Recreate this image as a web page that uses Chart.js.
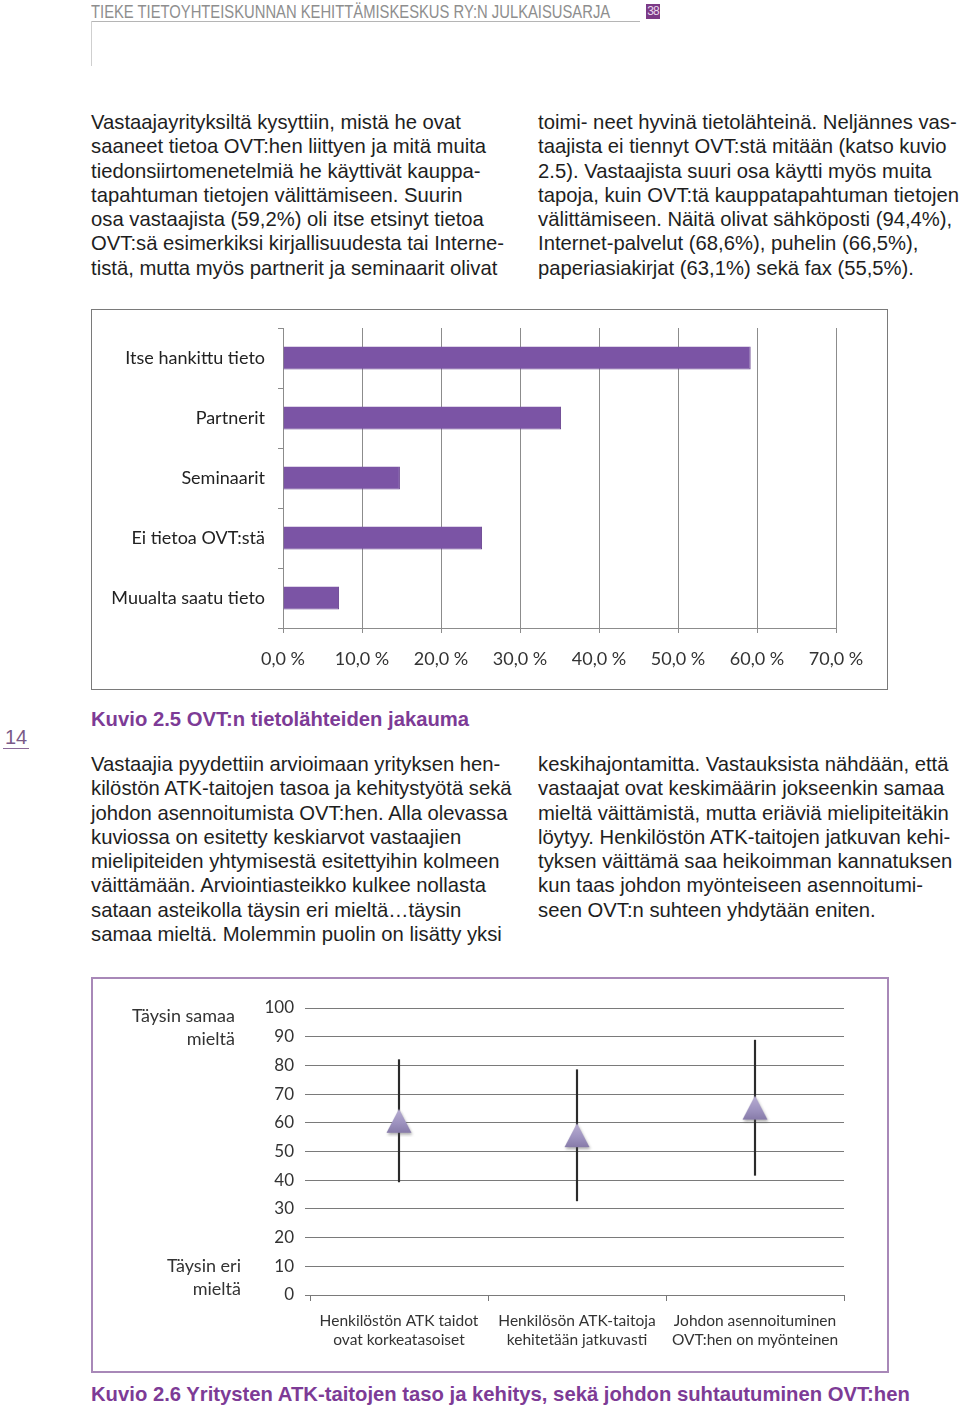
<!DOCTYPE html>
<html lang="fi">
<head>
<meta charset="UTF-8">
<title>Kuvio 2.5 ja 2.6</title>
<script src="https://cdn.jsdelivr.net/npm/chart.js"></script>
<style>
    body { margin: 0; width: 960px; height: 1410px; position: relative; overflow: hidden; background: #fff;
           font-family: "Liberation Sans", Arial, sans-serif; color: #1e1e1e; }
    .teksti { position: absolute; font-size: 20.25px; line-height: 24.3px; white-space: nowrap; }
    .otsake { position: absolute; left: 91px; top: 1px; font-size: 19px; color: #8e8e8e; white-space: nowrap;
              transform: scaleX(0.778); transform-origin: left top; }
    .kuvio { position: absolute; left: 91px; font-size: 20.25px; font-weight: bold; color: #7d3b96; white-space: nowrap; }
    .kehys { position: absolute; left: 91px; width: 795px; background: #fff; }
    .kehys canvas { position: absolute; left: 0; top: 0; }
    .sivuteksti { position: absolute; font-family: Lato, "Liberation Sans", sans-serif; font-size: 18px;
                  color: #333; text-align: right; line-height: 23px; white-space: nowrap; }
</style>
</head>
<body>

    <!-- yläreuna -->
    <div class="otsake">TIEKE TIETOYHTEISKUNNAN KEHITTÄMISKESKUS RY:N JULKAISUSARJA</div>
    <div style="position:absolute; left:91px; top:21px; width:549px; height:1px; background:#b5b5b5;"></div>
    <div style="position:absolute; left:91px; top:21px; width:1px; height:45px; background:#cfcfcf;"></div>
    <div style="position:absolute; left:646px; top:4px; width:14px; height:15px; background:#7c3a86; color:#e8d8ec;
                font-size:12px; line-height:15px; text-align:center; letter-spacing:-1px;">38</div>

    <div class="teksti" style="left:91px; top:110px;">
        Vastaajayrityksiltä kysyttiin, mistä he ovat<br>
        saaneet tietoa OVT:hen liittyen ja mitä muita<br>
        tiedonsiirtomenetelmiä he käyttivät kauppa-<br>
        tapahtuman tietojen välittämiseen. Suurin<br>
        osa vastaajista (59,2%) oli itse etsinyt tietoa<br>
        OVT:sä esimerkiksi kirjallisuudesta tai Interne-<br>
        tistä, mutta myös partnerit ja seminaarit olivat
    </div>
    <div class="teksti" style="left:538px; top:110px;">
        toimi- neet hyvinä tietolähteinä. Neljännes vas-<br>
        taajista ei tiennyt OVT:stä mitään (katso kuvio<br>
        2.5). Vastaajista suuri osa käytti myös muita<br>
        tapoja, kuin OVT:tä kauppatapahtuman tietojen<br>
        välittämiseen. Näitä olivat sähköposti (94,4%),<br>
        Internet-palvelut (68,6%), puhelin (66,5%),<br>
        paperiasiakirjat (63,1%) sekä fax (55,5%).
    </div>

    <!-- kuvio 2.5 -->
    <div class="kehys" style="top:309px; height:379px; border:1px solid #7a7a7a;">
        <canvas id="graafiLahteet" width="795" height="379"></canvas>
    </div>

    <div style="position:absolute; left:5px; top:726px; font-size:20px; color:#7a5a88;">14</div>
    <div style="position:absolute; left:3px; top:748px; width:26px; height:1px; background:#8a6a98;"></div>

    <div class="kuvio" style="top:708px;">Kuvio 2.5 OVT:n tietolähteiden jakauma</div>

    <div class="teksti" style="left:91px; top:752px;">
        Vastaajia pyydettiin arvioimaan yrityksen hen-<br>
        kilöstön ATK-taitojen tasoa ja kehitystyötä sekä<br>
        johdon asennoitumista OVT:hen. Alla olevassa<br>
        kuviossa on esitetty keskiarvot vastaajien<br>
        mielipiteiden yhtymisestä esitettyihin kolmeen<br>
        väittämään. Arviointiasteikko kulkee nollasta<br>
        sataan asteikolla täysin eri mieltä…täysin<br>
        samaa mieltä. Molemmin puolin on lisätty yksi
    </div>
    <div class="teksti" style="left:538px; top:752px;">
        keskihajontamitta. Vastauksista nähdään, että<br>
        vastaajat ovat keskimäärin jokseenkin samaa<br>
        mieltä väittämistä, mutta eriäviä mielipiteitäkin<br>
        löytyy. Henkilöstön ATK-taitojen jatkuvan kehi-<br>
        tyksen väittämä saa heikoimman kannatuksen<br>
        kun taas johdon myönteiseen asennoitumi-<br>
        seen OVT:n suhteen yhdytään eniten.
    </div>

    <!-- kuvio 2.6 -->
    <div class="kehys" style="top:977px; height:392px; border:2px solid #a888b8; width:794px;">
        <canvas id="graafiVaittamat" width="794" height="392"></canvas>
        <div class="sivuteksti" style="right:652px; top:25px;">Täysin samaa<br>mieltä</div>
        <div class="sivuteksti" style="right:646px; top:275px;">Täysin eri<br>mieltä</div>
    </div>

    <div class="kuvio" style="top:1383px;">Kuvio 2.6 Yritysten ATK-taitojen taso ja kehitys, sekä johdon suhtautuminen OVT:hen</div>

<script>
    // kuvio 2.5: tietolähteet (%)
    const lahteet = ['Itse hankittu tieto', 'Partnerit', 'Seminaarit', 'Ei tietoa OVT:stä', 'Muualta saatu tieto'];
    const osuudet = [59.2, 35.2, 14.8, 25.2, 7.1];
    const osuusMax = 70;
    const osuusVali = 10;

    // kuvio 2.6: keskiarvot ja keskihajonnan rajat (0-100)
    const vaittamat = [
        ['Henkilöstön ATK taidot', 'ovat korkeatasoiset'],
        ['Henkilösön ATK-taitoja', 'kehitetään jatkuvasti'],
        ['Johdon asennoituminen', 'OVT:hen on myönteinen']
    ];
    const keskiarvot = [60.7, 55.7, 65.3];
    const alarajat = [39.4, 32.8, 41.7];
    const ylarajat = [82.0, 78.5, 88.8];
    const asteikkoMax = 100;
    const asteikkoVali = 10;

    const fontti = { family: 'Lato, "Liberation Sans", sans-serif', size: 18 };

    new Chart(document.getElementById('graafiLahteet'), {
        type: 'bar',
        data: {
            labels: lahteet,
            datasets: [{
                data: osuudet,
                backgroundColor: '#7b54a5',
                borderColor: '#68438f',
                borderWidth: { bottom: 1, right: 1 },
                borderSkipped: 'left',
                categoryPercentage: 1,
                barPercentage: 0.38
            }]
        },
        options: {
            indexAxis: 'y',
            responsive: false,
            animation: false,
            layout: { padding: { top: 18, right: 51, left: 0, bottom: 0 } },
            plugins: { legend: { display: false }, tooltip: { enabled: false } },
            scales: {
                x: {
                    min: 0,
                    max: osuusMax,
                    ticks: {
                        stepSize: osuusVali,
                        callback: v => v.toFixed(1).replace('.', ',') + ' %',
                        font: fontti,
                        color: '#333',
                        padding: 15
                    },
                    grid: { color: '#8c8c8c', tickLength: 5 },
                    border: { color: '#8c8c8c' },
                    afterFit: s => { s.height = 61; }
                },
                y: {
                    ticks: { font: fontti, color: '#222', padding: 13 },
                    grid: { drawOnChartArea: false, offset: true, tickLength: 5, color: '#8c8c8c' },
                    border: { color: '#8c8c8c' },
                    afterFit: s => { s.width = 191; s.paddingTop = 0; s.paddingBottom = 0; }
                }
            }
        }
    });

    // kolmiomerkki keskiarvolle
    const kolmio = document.createElement('canvas');
    kolmio.width = 32;
    kolmio.height = 32;
    const kc = kolmio.getContext('2d');
    kc.shadowColor = 'rgba(80,80,80,0.45)';
    kc.shadowBlur = 3;
    kc.shadowOffsetX = 1;
    kc.shadowOffsetY = 2;
    const liuku = kc.createLinearGradient(0, 4, 0, 28);
    liuku.addColorStop(0, '#b8aed2');
    liuku.addColorStop(0.6, '#9d92bf');
    liuku.addColorStop(1, '#877ba9');
    kc.fillStyle = liuku;
    kc.beginPath();
    kc.moveTo(16, 4);
    kc.lineTo(28.5, 28);
    kc.lineTo(3.5, 28);
    kc.closePath();
    kc.fill();

    new Chart(document.getElementById('graafiVaittamat'), {
        type: 'bar',
        data: {
            labels: vaittamat,
            datasets: [{
                type: 'line',
                data: keskiarvot,
                showLine: false,
                pointStyle: kolmio,
                pointRadius: 14,
                order: 0
            }, {
                type: 'bar',
                data: alarajat.map((a, i) => [a, ylarajat[i]]),
                backgroundColor: '#2b2b2b',
                barThickness: 1.5,
                order: 1
            }]
        },
        options: {
            responsive: false,
            animation: false,
            layout: { padding: { top: 29, right: 43, left: 0, bottom: 0 } },
            plugins: { legend: { display: false }, tooltip: { enabled: false } },
            scales: {
                x: {
                    ticks: { font: { family: fontti.family, size: 15.5, lineHeight: 1.22 }, color: '#333', padding: 11,
                             maxRotation: 0, minRotation: 0, autoSkip: false },
                    grid: { drawOnChartArea: false, offset: true, tickLength: 6, color: '#777' },
                    border: { display: false },
                    afterFit: s => { s.height = 76; }
                },
                y: {
                    min: 0,
                    max: asteikkoMax,
                    ticks: { stepSize: asteikkoVali, font: { family: fontti.family, size: 17 }, color: '#333', padding: 11 },
                    grid: { color: '#7a7a7a', tickLength: 5 },
                    border: { display: false },
                    afterFit: s => { s.width = 217; s.paddingTop = 0; s.paddingBottom = 0; }
                }
            }
        }
    });
</script>
</body>
</html>
